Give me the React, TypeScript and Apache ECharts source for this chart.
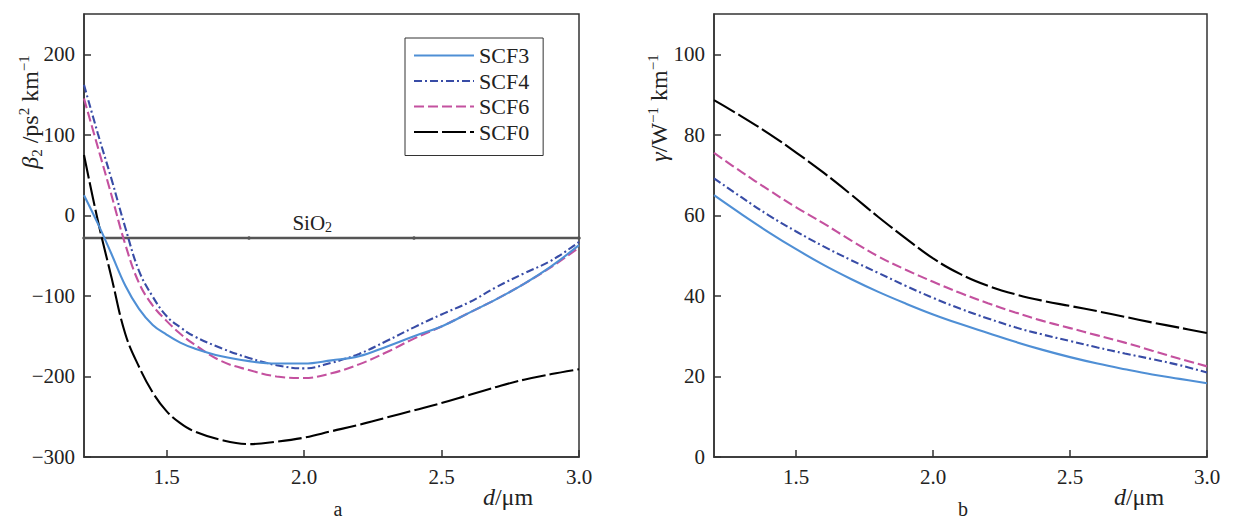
import React, { useEffect, useRef } from "react";
import * as echarts from "echarts";

// ---------- data ----------
const seriesNames = ["SCF3", "SCF4", "SCF6", "SCF0"];
const seriesColors = ["#4f8fd5", "#384ca6", "#c4519f", "#000000"];
const seriesDash: (number[] | "solid")[] = ["solid", [8, 3, 2, 3], [10, 4], [24, 4]];

// panel a: beta2 vs d
const dA = [1.2, 1.25, 1.3, 1.35, 1.4, 1.45, 1.5, 1.55, 1.6, 1.7, 1.8, 1.9, 2.0, 2.1, 2.2, 2.3, 2.4, 2.5, 2.6, 2.7, 2.8, 2.9, 3.0];
const beta2SCF3 = [25, -10, -48, -87, -116, -136, -148, -158, -165, -175, -181, -184, -184, -180, -175, -163, -150, -138, -121, -104, -85, -63, -37];
const beta2SCF4 = [162, 102, 45, -15, -69, -101, -125, -139, -150, -165, -177, -186, -190, -183, -172, -156, -139, -123, -108, -89, -72, -56, -33];
const beta2SCF6 = [145, 85, 25, -36, -84, -112, -131, -147, -160, -181, -192, -200, -202, -196, -185, -170, -153, -138, -121, -104, -85, -64, -40];
const beta2SCF0 = [75, -6, -77, -147, -188, -220, -243, -258, -268, -279, -284, -281, -276, -268, -260, -251, -242, -233, -223, -213, -204, -197, -191];
const sio2D = [1.2, 1.8, 2.03, 2.4, 3.0];
const sio2Beta2 = -28;

// panel b: gamma vs d
const dB = [1.2, 1.3, 1.4, 1.5, 1.6, 1.7, 1.8, 1.9, 2.0, 2.1, 2.2, 2.3, 2.4, 2.5, 2.6, 2.7, 2.8, 2.9, 3.0];
const gammaSCF3 = [65, 60.3, 55.8, 51.6, 47.7, 44.2, 41, 38.1, 35.4, 33, 30.8, 28.6, 26.6, 24.8, 23.2, 21.8, 20.5, 19.4, 18.3];
const gammaSCF4 = [69.2, 64.5, 60, 56, 52.3, 48.9, 45.7, 42.5, 39.5, 36.8, 34.4, 32.2, 30.4, 28.8, 27.2, 25.7, 24.3, 22.8, 21];
const gammaSCF6 = [75.5, 70.8, 66.3, 62, 58, 53.8, 49.8, 46.5, 43.5, 40.7, 38.2, 35.9, 33.8, 32, 30.2, 28.4, 26.4, 24.4, 22.5];
const gammaSCF0 = [88.6, 84.6, 80.3, 75.6, 70.6, 65.2, 59.6, 54.3, 49.3, 45.4, 42.5, 40.4, 38.8, 37.5, 36.2, 34.8, 33.4, 32.1, 30.8];

const xTicks = [1.5, 2.0, 2.5, 3.0];
const yTicksA = [-300, -200, -100, 0, 100, 200];
const yTicksB = [0, 20, 40, 60, 80, 100];

const FONT = "'Liberation Serif', 'Times New Roman', serif";
const AXIS_COLOR = "#333";

export default function App() {
  const ref = useRef<HTMLDivElement>(null);
  useEffect(() => {
    if (!ref.current) return;
    const chart = echarts.init(ref.current, undefined, { renderer: "svg" });

    const axisLine = { show: true, onZero: false, lineStyle: { color: AXIS_COLOR, width: 1.5 } };
    const fmtY = (v: number) => (v < 0 ? "\u2212" + Math.abs(v) : String(v));

    const xAxisBase = (gi: number) => ({
      type: "value",
      gridIndex: gi,
      min: 1.2,
      max: 3.0,
      axisLine,
      axisTick: { show: true, inside: true, length: 7, customValues: xTicks, lineStyle: { color: AXIS_COLOR, width: 1.5 } },
      axisLabel: { customValues: xTicks, formatter: (v: number) => v.toFixed(1), fontSize: 21, fontFamily: FONT, color: "#222", margin: 9 },
      splitLine: { show: false },
    });
    const yAxisBase = (gi: number, min: number, max: number, ticks: number[]) => ({
      type: "value",
      gridIndex: gi,
      min,
      max,
      axisLine,
      axisTick: { show: true, inside: true, length: 7, customValues: ticks, lineStyle: { color: AXIS_COLOR, width: 1.5 } },
      axisLabel: { customValues: ticks, formatter: fmtY, fontSize: 21, fontFamily: FONT, color: "#222", margin: 9 },
      splitLine: { show: false },
    });

    const betaData = [beta2SCF3, beta2SCF4, beta2SCF6, beta2SCF0];
    const gammaData = [gammaSCF3, gammaSCF4, gammaSCF6, gammaSCF0];

    const mkSeries = (i: number, xs: number[], ys: number[], gi: number) => ({
      name: seriesNames[i],
      type: "line",
      xAxisIndex: gi,
      yAxisIndex: gi,
      data: xs.map((x, k) => [x, ys[k]]),
      smooth: 0.4,
      symbol: "none",
      showSymbol: false,
      lineStyle: { color: seriesColors[i], width: 2.1, type: seriesDash[i] },
      itemStyle: { color: seriesColors[i] },
      z: 3 + (3 - i),
    });

    const series: any[] = [];
    series.push({
      name: "SiO2",
      type: "line",
      xAxisIndex: 0,
      yAxisIndex: 0,
      data: sio2D.map((x, k) =>
        k === 2
          ? {
              value: [x, sio2Beta2],
              symbol: "circle",
              symbolSize: 0,
              label: {
                show: true,
                position: "top",
                distance: 3,
                formatter: "{n|SiO}{s|2}",
                rich: {
                  n: { fontSize: 21, fontFamily: FONT, color: "#222", lineHeight: 24 },
                  s: { fontSize: 14, fontFamily: FONT, color: "#222", verticalAlign: "bottom", lineHeight: 14 },
                },
              },
            }
          : [x, sio2Beta2]
      ),
      symbol: "circle",
      symbolSize: 3.5,
      showSymbol: true,
      lineStyle: { color: "#555", width: 2.5 },
      itemStyle: { color: "#555" },
      z: 2,
    });
    for (let i = 0; i < 4; i++) series.push(mkSeries(i, dA, betaData[i], 0));
    for (let i = 0; i < 4; i++) series.push(mkSeries(i, dB, gammaData[i], 1));

    const mainR = { fontSize: 24, fontFamily: FONT, fill: "#222", lineHeight: 28 };
    const richBase = {
      i: { ...mainR, fontStyle: "italic" },
      n: { ...mainR },
      sup: { fontSize: 15, fontFamily: FONT, fill: "#222", verticalAlign: "top", lineHeight: 16 },
      sub: { fontSize: 15, fontFamily: FONT, fill: "#222", verticalAlign: "bottom", lineHeight: 16 },
    };

    const option: any = {
      animation: false,
      textStyle: { fontFamily: FONT },
      grid: [
        { left: 84, top: 14, width: 495, height: 443, show: true, borderColor: AXIS_COLOR, borderWidth: 1.5, backgroundColor: "transparent" },
        { left: 714, top: 14, width: 493, height: 443, show: true, borderColor: AXIS_COLOR, borderWidth: 1.5, backgroundColor: "transparent" },
      ],
      xAxis: [xAxisBase(0), xAxisBase(1)],
      yAxis: [yAxisBase(0, -300, 250, yTicksA), yAxisBase(1, 0, 110, yTicksB)],
      legend: {
        data: seriesNames,
        orient: "vertical",
        left: 405,
        top: 38,
        padding: [5, 14, 11, 8],
        itemWidth: 60,
        itemHeight: 25,
        itemGap: 0.5,
        itemStyle: { opacity: 0 },
        borderColor: AXIS_COLOR,
        borderWidth: 1,
        textStyle: { fontSize: 22, fontFamily: FONT, color: "#222", lineHeight: 25 },
        selectedMode: false,
      },
      series,
      graphic: [
        {
          type: "text",
          x: 30,
          y: 112,
          rotation: Math.PI / 2,
          style: {
            text: "{i|β}{sub|2}{n| /ps}{sup|2}{n| km}{sup|\u22121}",
            rich: richBase,
            align: "center",
            verticalAlign: "middle",
            fill: "#222",
            fontFamily: FONT,
            fontSize: 24,
          },
        },
        {
          type: "text",
          x: 659,
          y: 108,
          rotation: Math.PI / 2,
          style: {
            text: "{i|γ}{n|/W}{sup|\u22121}{n| km}{sup|\u22121}",
            rich: richBase,
            align: "center",
            verticalAlign: "middle",
            fill: "#222",
            fontFamily: FONT,
            fontSize: 24,
          },
        },
        {
          type: "text",
          x: 508,
          y: 497,
          style: { text: "{i|d}{n|/μm}", rich: richBase, align: "center", verticalAlign: "middle", fill: "#222", fontFamily: FONT, fontSize: 24 },
        },
        {
          type: "text",
          x: 1139,
          y: 497,
          style: { text: "{i|d}{n|/μm}", rich: richBase, align: "center", verticalAlign: "middle", fill: "#222", fontFamily: FONT, fontSize: 24 },
        },
        {
          type: "text",
          x: 338,
          y: 509,
          style: { text: "a", align: "center", verticalAlign: "middle", fill: "#222", fontFamily: FONT, fontSize: 20 },
        },
        {
          type: "text",
          x: 963,
          y: 509,
          style: { text: "b", align: "center", verticalAlign: "middle", fill: "#222", fontFamily: FONT, fontSize: 20 },
        },
      ],
    };

    chart.setOption(option);
    return () => chart.dispose();
  }, []);

  return (
    <div
      ref={ref}
      style={{ position: "fixed", left: 0, top: 0, width: 1233, height: 521, background: "#fff" }}
    />
  );
}
